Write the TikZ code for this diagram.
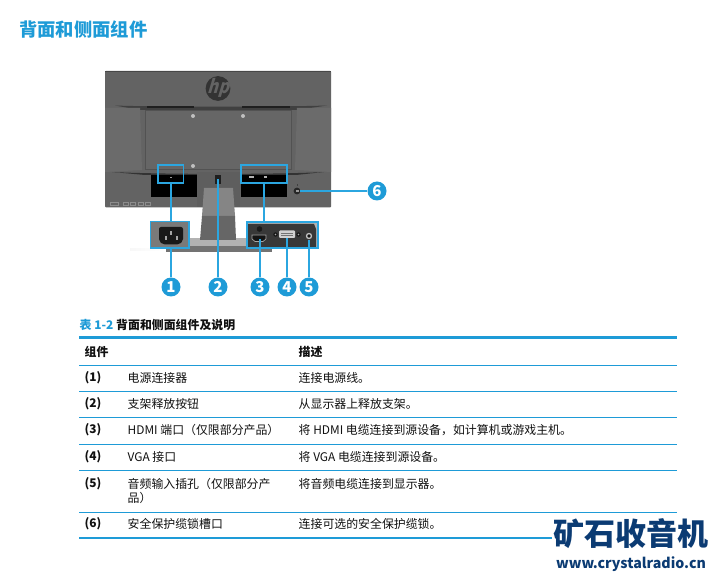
\documentclass[tikz,border=0pt]{standalone}
\usepackage{fontspec}
\setmainfont{Noto Sans CJK SC}
\usetikzlibrary{calc}
\definecolor{hpblue}{HTML}{1E9BD7}
\definecolor{callout}{HTML}{2BA6E0}
\definecolor{navy}{HTML}{0B3B73}
\definecolor{bodygray}{HTML}{636363}
\definecolor{txt}{HTML}{111111}
\tikzset{
  cell/.style={anchor=west,inner sep=0pt,text=txt,font=\fontsize{11.9}{14}\selectfont},
  bcell/.style={cell,font=\fontsize{11.9}{14}\selectfont\bfseries},
  badge/.style={circle,fill=hpblue,text=white,minimum size=19pt,inner sep=0pt,font=\fontsize{15}{15}\selectfont\bfseries},
  hilite/.style={draw=callout,line width=1.7pt,inner sep=0pt},
  lead/.style={draw=callout,line width=1.7pt},
  thin rule/.style={draw=hpblue,line width=0.9pt},
  thick rule/.style={draw=hpblue,line width=2.4pt},
}
\begin{document}
\begin{tikzpicture}[x=1pt,y=-1pt]
\useasboundingbox (0,0) rectangle (718,577);
\fill[white] (0,0) rectangle (718,577);
\node[anchor=west,inner sep=0pt,text=hpblue,font=\fontsize{18.3}{20}\selectfont\bfseries] (title) at (19,30) {背面和侧面组件};

% ---- monitor back
\fill[left color=black!3,right color=white] (130,249) rectangle (166,251);
\fill[bodygray,rounded corners=1pt] (105,71) rectangle (331,207.5);
\fill[black!72] (105,71) rectangle (331,72);
% upper waist shadow and vents
\fill[black!75] (115,105.5) .. controls (150,107) and (285,107) .. (327,105.5) -- (297,110) -- (140,110) -- cycle;
\fill[black!88] (147,106.5) rectangle (194,108.5);
\fill[black!88] (242,106.5) rectangle (290,108.5);
% side shoulders
\fill[black!58] (105,108) -- (140,108) -- (142,170) -- (105,172) -- cycle;
\fill[black!58] (297,108) -- (331,108) -- (331,172) -- (295,170) -- cycle;
% recessed mount panel
\draw[black!68,line width=0.8pt,fill=black!60] (145,110) rectangle (291,169);
% lower waist shadow
\fill[black!80] (112,172) .. controls (160,174.5) and (280,174.5) .. (324,172) -- (296,175) -- (145,175) -- cycle;
\fill[black!63] (197,172) rectangle (240,207.5);
\foreach \p in {(193,116),(243,116),(193,166)} \fill[black!25] \p circle (2pt);
\fill[black] (151,175) rectangle (197,197);
\fill[black] (241,175) rectangle (287,197);
\fill[black!40] (170,177) rectangle (172,178);
\fill[black!30] (249,176.5) rectangle (254,178);
\fill[black!30] (264,176.5) rectangle (267,178);
\draw[black!45,line width=0.6pt] (110,202) rectangle (118,205);
\foreach \x in {126,133,140.5,148} \draw[black!45,line width=0.6pt] (\x-2.5,202) rectangle (\x+2.5,205);
\fill[black!85] (297,191) circle (3.4pt);
\fill[black!40] (295.5,190.2) rectangle (298.5,191.8);
\fill[black!75] (296.5,184) rectangle (297.5,186.5);
% logo
\fill[black!80] (218,88.5) circle (12.4pt);
\node[inner sep=0pt,text=bodygray,font=\fontsize{19}{19}\selectfont\bfseries,xscale=0.85] (logo) at (218,87.5) {\addfontfeature{FakeSlant=0.35}hp};
% stand
\fill[black!48] (204,188) -- (233,188) -- (235,216) -- (202,216) -- cycle;
\fill[black!60] (202,216) -- (235,216) -- (236,240) -- (200,240) -- cycle;
\fill[black!55] (166,240) rectangle (272,252);
\fill[black!30] (190,238) rectangle (246,246);
\fill[black!60] (200,238) rectangle (236,240);
\fill[black!88] (215,175) rectangle (221,184);

% ---- highlight boxes (callout details)
\node[hilite,fill=black!52,minimum width=38.5pt,minimum height=26.5pt] (bxpower) at (169.7,234.7) {};
\fill[black!90,rounded corners=2pt] (159,227) -- (183,227) -- (183,241) -- (179,244.5) -- (163,244.5) -- (159,241) -- cycle;
\fill[black!35] (170,231) rectangle (172,235);
\fill[black!35] (165,236) rectangle (167,240);
\fill[black!35] (176,236) rectangle (178,240);
\node[hilite,fill=black!30,minimum width=71pt,minimum height=26pt] (bxio) at (282.3,235) {};
\fill[black!78] (248,224) -- (314,224) -- (316,229) -- (316,247) -- (248,247) -- cycle;
\fill[black!90] (259.5,229) circle (2.8pt);
\fill[black!92] (252,235) -- (266,235) -- (266,239) -- (263,241.5) -- (255,241.5) -- (252,239) -- cycle;
\draw[black!35,line width=0.7pt] (252,235) -- (266,235) -- (266,239) -- (263,241.5) -- (255,241.5) -- (252,239) -- cycle;
\fill[black!18,rounded corners=1pt] (279,230.5) rectangle (295,238);
\draw[black!55,line width=0.5pt] (281,233) -- (293,233) (281,235.5) -- (293,235.5);
\fill[black!92] (275.5,234.5) circle (2.2pt);
\fill[black!35] (275.5,234.5) circle (0.8pt);
\fill[black!92] (298.5,234.5) circle (2.2pt);
\fill[black!35] (298.5,234.5) circle (0.8pt);
\fill[black!25] (309,236) circle (3.2pt);
\fill[black!92] (309,236) circle (1.8pt);

\node[hilite,minimum width=25.5pt,minimum height=18pt] (bxa) at (170.7,174) {};
\node[hilite,minimum width=46pt,minimum height=18pt] (bxb) at (264,174) {};

% badges
\node[badge] (n1) at (171,287) {1};
\node[badge] (n2) at (218,287) {2};
\node[badge] (n3) at (260,287) {3};
\node[badge] (n4) at (287,287) {4};
\node[badge] (n5) at (309,287) {5};
\node[badge] (n6) at (377,191) {6};
\coordinate (t2) at (218,179);
\coordinate (t3) at (260,239);
\coordinate (t4) at (287,238);
\coordinate (t5) at (309,240);
\coordinate (t6) at (300,191);

% connectors
\draw[lead] (bxa.south) -- (bxa.south |- bxpower.north);
\draw[lead] (bxb.south) -- (bxb.south |- bxio.north);
\draw[lead] (n1) -- (n1 |- bxpower.south);
\draw[lead] (n2) -- (t2);
\draw[lead] (n3) -- (t3);
\draw[lead] (n4) -- (t4);
\draw[lead] (n5) -- (t5);
\draw[lead] (n6) -- (t6);

% ---- table
\node[anchor=west,inner sep=0pt,text=hpblue,font=\fontsize{11.9}{14}\selectfont\bfseries] (cap1) at (79.5,325) {表 1-2};
\node[anchor=west,inner sep=0pt,text=txt,font=\fontsize{11.9}{14}\selectfont\bfseries] (cap2) at (116,325) {背面和侧面组件及说明};
\draw[thick rule] (79,337.5) -- (677,337.5);
\draw[thin rule] (79,365) -- (677,365);
\draw[thin rule] (79,391) -- (677,391);
\draw[thin rule] (79,417) -- (677,417);
\draw[thin rule] (79,444) -- (677,444);
\draw[thin rule] (79,470) -- (677,470);
\draw[thin rule] (79,512) -- (677,512);
\draw[thick rule,line width=1.8pt] (79,538) -- (552,538);

\node[bcell] (h1) at (84.5,352) {组件};
\node[bcell] (h2) at (298.5,352) {描述};
\node[bcell] (a1) at (84.5,378) {(1)};
\node[cell] (b1) at (127.5,378) {电源连接器};
\node[cell] (c1) at (298.5,378) {连接电源线。};
\node[bcell] (a2) at (84.5,404) {(2)};
\node[cell] (b2) at (127.5,404) {支架释放按钮};
\node[cell] (c2) at (298.5,404) {从显示器上释放支架。};
\node[bcell] (a3) at (84.5,430) {(3)};
\node[cell] (b3) at (127.5,430) {HDMI 端口（仅限部分产品）};
\node[cell] (c3) at (298.5,430) {将 HDMI 电缆连接到源设备，如计算机或游戏主机。};
\node[bcell] (a4) at (84.5,457) {(4)};
\node[cell] (b4) at (127.5,457) {VGA 接口};
\node[cell] (c4) at (298.5,457) {将 VGA 电缆连接到源设备。};
\node[bcell] (a5) at (84.5,484) {(5)};
\node[cell] (b5a) at (127.5,484) {音频输入插孔（仅限部分产};
\node[cell] (b5b) at (127.5,498) {品）};
\node[cell] (c5) at (298.5,484) {将音频电缆连接到显示器。};
\node[bcell] (a6) at (84.5,524) {(6)};
\node[cell] (b6) at (127.5,524) {安全保护缆锁槽口};
\node[cell] (c6) at (298.5,524) {连接可选的安全保护缆锁。};

% ---- watermark
\node[anchor=center,inner sep=0pt,text=navy,font=\fontsize{31}{32}\selectfont\bfseries] (wm1) at (631,533.5) {矿石收音机};
\node[anchor=center,inner sep=0pt,text=navy,font=\fontsize{14.2}{16}\selectfont\bfseries] (wm2) at (631,564) {www.crystalradio.cn};
\end{tikzpicture}
\end{document}
